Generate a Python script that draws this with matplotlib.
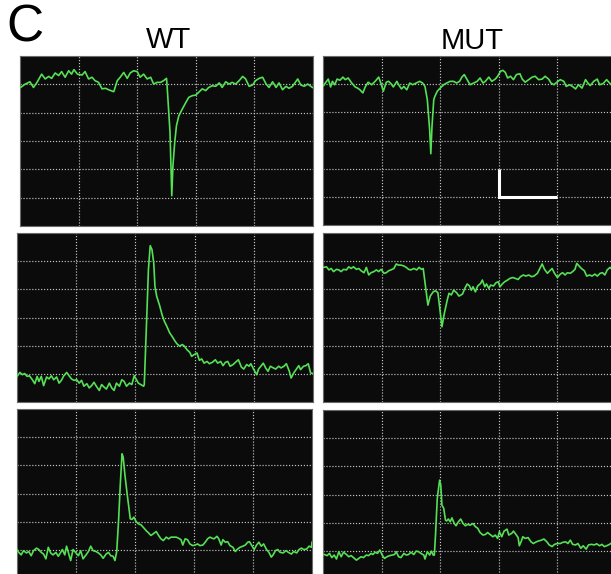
import matplotlib
matplotlib.use("Agg")
import matplotlib.pyplot as plt

wt1_x = [0.01, 0.09, 0.17, 0.23, 0.29, 0.37, 0.43, 0.49, 0.54, 0.60, 0.66, 0.71, 0.77, 0.83, 0.88,
         0.92, 0.98, 1.06, 1.11, 1.17, 1.23, 1.28, 1.34, 1.40, 1.46, 1.51, 1.60, 1.66, 1.71, 1.77,
         1.83, 1.88, 1.94, 2.00, 2.05, 2.11, 2.17, 2.23, 2.28, 2.34, 2.40, 2.45, 2.50, 2.51, 2.56,
         2.59, 2.61, 2.64, 2.67, 2.71, 2.77, 2.83, 2.88, 2.94, 3.00, 3.05, 3.11, 3.17, 3.22, 3.28,
         3.34, 3.40, 3.45, 3.51, 3.57, 3.62, 3.68, 3.74, 3.80, 3.85, 3.91, 3.97, 4.02, 4.08, 4.14,
         4.20, 4.25, 4.31, 4.37, 4.42, 4.48, 4.54, 4.59, 4.65, 4.74, 4.79, 4.85, 4.91, 4.99]
wt1_y = [4.89, 5.01, 5.09, 4.89, 5.07, 5.36, 5.19, 5.28, 5.21, 5.40, 5.31, 5.45, 5.25, 5.48, 5.36,
         5.52, 5.36, 5.33, 5.45, 5.19, 5.25, 5.13, 5.07, 4.84, 4.86, 4.81, 4.74, 5.13, 5.25, 5.42,
         5.21, 5.40, 5.48, 5.45, 5.25, 5.36, 5.19, 5.25, 5.01, 5.07, 5.07, 5.13, 5.21, 4.95, 3.31,
         1.07, 2.13, 2.95, 3.54, 3.89, 4.13, 4.36, 4.54, 4.60, 4.62, 4.72, 4.84, 4.78, 4.89, 4.95,
         4.93, 5.05, 4.89, 5.09, 5.01, 5.07, 5.01, 5.13, 5.28, 5.19, 4.93, 4.98, 5.13, 5.21, 5.25,
         5.01, 4.89, 5.09, 4.89, 5.05, 4.81, 4.93, 4.86, 4.93, 5.19, 4.98, 4.93, 5.01, 4.89]

mut1_x = [0.01, 0.05, 0.09, 0.13, 0.16, 0.20, 0.24, 0.29, 0.34, 0.38, 0.43, 0.49, 0.55, 0.59, 0.63,
          0.68, 0.72, 0.77, 0.83, 0.89, 0.95, 0.99, 1.03, 1.08, 1.12, 1.16, 1.20, 1.26, 1.30, 1.34,
          1.38, 1.43, 1.48, 1.53, 1.59, 1.65, 1.70, 1.74, 1.78, 1.82, 1.84, 1.86, 1.89, 1.91, 1.95,
          2.00, 2.06, 2.11, 2.17, 2.23, 2.28, 2.33, 2.37, 2.41, 2.46, 2.51, 2.57, 2.63, 2.68, 2.73,
          2.77, 2.83, 2.88, 2.94, 2.98, 3.03, 3.07, 3.11, 3.15, 3.20, 3.25, 3.30, 3.36, 3.40, 3.45,
          3.51, 3.57, 3.62, 3.68, 3.74, 3.79, 3.85, 3.89, 3.94, 3.99, 4.05, 4.11, 4.15, 4.21, 4.27,
          4.31, 4.36, 4.42, 4.48, 4.52, 4.56, 4.62, 4.68, 4.72, 4.78, 4.84, 4.89, 4.92]
mut1_y = [4.95, 5.07, 5.18, 4.90, 5.10, 4.98, 5.18, 5.14, 5.25, 5.16, 5.22, 5.04, 4.90, 4.86, 4.80,
          4.69, 4.90, 5.07, 4.98, 5.10, 5.25, 5.02, 4.75, 5.07, 5.10, 5.02, 4.90, 5.10, 4.95, 4.83,
          4.92, 4.80, 5.04, 4.98, 5.04, 5.10, 5.04, 4.92, 4.45, 3.38, 2.53, 3.50, 4.45, 4.57, 4.75,
          4.86, 4.98, 5.04, 5.10, 5.10, 5.04, 5.10, 5.25, 5.34, 5.16, 4.98, 5.04, 5.10, 5.22, 5.04,
          5.10, 5.25, 5.10, 5.18, 5.28, 5.46, 5.49, 5.42, 5.22, 5.28, 5.16, 5.34, 5.37, 5.18, 5.07,
          5.16, 5.25, 5.28, 5.16, 5.18, 5.28, 5.18, 5.04, 4.98, 5.07, 5.16, 5.10, 4.92, 4.98, 4.90,
          4.83, 4.98, 4.86, 5.16, 5.04, 4.95, 5.10, 5.18, 4.98, 5.02, 5.16, 5.04, 4.98]

wt2_x = [0.00, 0.05, 0.09, 0.13, 0.17, 0.21, 0.26, 0.30, 0.34, 0.37, 0.41, 0.45, 0.50, 0.54, 0.58,
         0.62, 0.67, 0.71, 0.75, 0.79, 0.84, 0.88, 0.92, 0.96, 1.01, 1.05, 1.09, 1.13, 1.18, 1.22,
         1.26, 1.30, 1.34, 1.39, 1.43, 1.47, 1.51, 1.56, 1.60, 1.64, 1.68, 1.73, 1.77, 1.81, 1.85,
         1.90, 1.94, 1.98, 2.01, 2.05, 2.09, 2.14, 2.15, 2.19, 2.22, 2.25, 2.28, 2.31, 2.33, 2.36,
         2.41, 2.45, 2.49, 2.53, 2.58, 2.62, 2.66, 2.70, 2.75, 2.79, 2.82, 2.87, 2.92, 2.95, 2.99,
         3.04, 3.08, 3.12, 3.16, 3.21, 3.25, 3.30, 3.35, 3.39, 3.44, 3.48, 3.52, 3.56, 3.60, 3.65,
         3.69, 3.74, 3.79, 3.83, 3.88, 3.92, 3.95, 4.00, 4.05, 4.08, 4.12, 4.16, 4.20, 4.24, 4.28,
         4.33, 4.37, 4.42, 4.46, 4.51, 4.55, 4.60, 4.63, 4.68, 4.72, 4.76, 4.79, 4.84, 4.88, 4.92,
         4.96, 5.00]
wt2_y = [0.91, 1.05, 0.97, 1.01, 0.91, 0.93, 0.79, 0.65, 0.91, 0.73, 0.91, 0.58, 0.89, 0.82, 0.93,
         0.79, 0.89, 0.67, 0.77, 0.93, 1.05, 0.93, 0.82, 0.77, 0.79, 0.67, 0.77, 0.56, 0.65, 0.50,
         0.58, 0.70, 0.56, 0.41, 0.62, 0.53, 0.46, 0.67, 0.50, 0.41, 0.67, 0.56, 0.79, 0.73, 0.56,
         0.67, 0.62, 0.93, 0.82, 0.67, 0.62, 0.56, 0.62, 2.92, 4.70, 5.55, 5.41, 4.93, 4.11, 3.75,
         3.42, 3.10, 2.86, 2.69, 2.45, 2.33, 2.19, 2.07, 1.98, 2.04, 2.00, 1.86, 1.76, 1.62, 1.68,
         1.74, 1.48, 1.53, 1.38, 1.44, 1.36, 1.41, 1.50, 1.38, 1.44, 1.29, 1.41, 1.44, 1.27, 1.33,
         1.41, 1.50, 1.24, 1.17, 1.33, 1.27, 1.36, 1.15, 0.97, 1.17, 1.27, 1.38, 1.21, 1.09, 1.27,
         1.21, 1.17, 1.27, 1.21, 1.27, 1.36, 1.09, 0.85, 1.05, 1.17, 1.29, 1.15, 1.27, 1.29, 1.36,
         1.03, 1.01]

mut2_x = [0.01, 0.06, 0.10, 0.14, 0.18, 0.23, 0.27, 0.31, 0.35, 0.40, 0.44, 0.48, 0.52, 0.57, 0.61,
          0.65, 0.70, 0.74, 0.78, 0.82, 0.87, 0.91, 0.95, 0.99, 1.04, 1.08, 1.12, 1.16, 1.21, 1.25,
          1.29, 1.33, 1.38, 1.42, 1.46, 1.50, 1.55, 1.60, 1.64, 1.68, 1.71, 1.75, 1.79, 1.83, 1.88,
          1.92, 1.96, 1.99, 2.03, 2.07, 2.12, 2.15, 2.19, 2.23, 2.28, 2.32, 2.38, 2.42, 2.46, 2.50,
          2.53, 2.56, 2.60, 2.64, 2.69, 2.72, 2.76, 2.79, 2.83, 2.86, 2.91, 2.95, 2.99, 3.02, 3.06,
          3.10, 3.15, 3.19, 3.24, 3.28, 3.33, 3.37, 3.42, 3.46, 3.51, 3.56, 3.60, 3.66, 3.70, 3.74,
          3.78, 3.83, 3.87, 3.91, 3.95, 4.00, 4.05, 4.09, 4.13, 4.17, 4.22, 4.26, 4.30, 4.33, 4.37,
          4.41, 4.46, 4.50, 4.55, 4.59, 4.64, 4.68, 4.73, 4.77, 4.81, 4.85, 4.90, 4.93]
mut2_y = [4.78, 4.80, 4.69, 4.74, 4.63, 4.71, 4.69, 4.63, 4.71, 4.69, 4.80, 4.74, 4.80, 4.71, 4.74,
          4.66, 4.59, 4.78, 4.51, 4.59, 4.63, 4.69, 4.63, 4.71, 4.57, 4.59, 4.66, 4.69, 4.74, 4.90,
          4.86, 4.86, 4.83, 4.78, 4.71, 4.69, 4.74, 4.69, 4.78, 4.71, 4.74, 4.09, 3.44, 3.76, 3.91,
          3.95, 3.88, 3.38, 2.67, 3.14, 3.62, 3.86, 3.80, 3.97, 3.88, 3.76, 3.83, 4.03, 4.19, 4.12,
          3.97, 4.09, 3.91, 4.12, 4.21, 4.33, 4.09, 4.19, 4.03, 4.15, 4.12, 4.23, 4.27, 4.09, 4.19,
          4.27, 4.33, 4.39, 4.42, 4.39, 4.35, 4.45, 4.51, 4.47, 4.51, 4.45, 4.47, 4.57, 4.74, 4.90,
          4.71, 4.57, 4.66, 4.74, 4.57, 4.42, 4.54, 4.59, 4.51, 4.59, 4.57, 4.63, 4.71, 4.92, 4.83,
          4.74, 4.66, 4.47, 4.51, 4.47, 4.54, 4.47, 4.57, 4.59, 4.51, 4.69, 4.78, 4.71]

wt3_x = [0.00, 0.03, 0.07, 0.11, 0.16, 0.20, 0.24, 0.28, 0.33, 0.37, 0.41, 0.45, 0.49, 0.53, 0.57,
         0.61, 0.66, 0.70, 0.74, 0.77, 0.81, 0.84, 0.87, 0.91, 0.95, 1.00, 1.04, 1.08, 1.12, 1.17,
         1.21, 1.25, 1.29, 1.34, 1.38, 1.42, 1.46, 1.51, 1.55, 1.59, 1.63, 1.66, 1.69, 1.72, 1.75,
         1.78, 1.80, 1.83, 1.87, 1.92, 1.95, 1.98, 2.02, 2.06, 2.10, 2.14, 2.19, 2.23, 2.27, 2.31,
         2.36, 2.40, 2.44, 2.48, 2.53, 2.57, 2.61, 2.65, 2.70, 2.74, 2.78, 2.81, 2.85, 2.89, 2.93,
         2.98, 3.02, 3.06, 3.10, 3.15, 3.19, 3.23, 3.27, 3.31, 3.34, 3.39, 3.42, 3.46, 3.49, 3.53,
         3.57, 3.61, 3.66, 3.70, 3.74, 3.78, 3.83, 3.87, 3.91, 3.94, 3.98, 4.02, 4.06, 4.10, 4.14,
         4.18, 4.23, 4.27, 4.31, 4.34, 4.38, 4.42, 4.46, 4.51, 4.56, 4.60, 4.65, 4.69, 4.74, 4.78,
         4.82, 4.86, 4.91, 4.95, 4.99, 5.00]
wt3_y = [1.01, 0.91, 0.82, 0.97, 0.89, 0.94, 0.79, 0.97, 1.06, 1.01, 0.91, 0.85, 0.68, 1.09, 0.89,
         0.82, 0.91, 0.77, 0.91, 1.01, 0.82, 1.13, 0.91, 0.62, 1.01, 0.89, 0.79, 0.97, 0.68, 0.82,
         0.94, 1.13, 0.97, 0.94, 0.89, 0.82, 0.70, 0.85, 0.91, 0.79, 0.77, 0.62, 0.94, 1.98, 3.29,
         4.41, 4.29, 3.64, 2.93, 2.10, 2.08, 2.16, 2.00, 1.92, 1.89, 1.80, 1.68, 1.60, 1.51, 1.57,
         1.65, 1.51, 1.39, 1.33, 1.45, 1.39, 1.45, 1.45, 1.45, 1.41, 1.36, 1.17, 1.39, 1.36, 1.21,
         1.15, 1.17, 1.21, 1.15, 1.17, 1.27, 1.39, 1.45, 1.41, 1.39, 1.48, 1.39, 1.17, 1.36, 1.27,
         1.29, 1.15, 1.09, 0.94, 1.03, 1.09, 1.13, 1.17, 1.27, 1.29, 1.15, 1.01, 1.17, 1.27, 1.13,
         1.21, 1.01, 0.91, 0.74, 0.82, 0.97, 1.01, 0.91, 0.89, 0.97, 0.91, 0.85, 0.94, 0.89, 1.01,
         1.06, 1.01, 1.03, 1.13, 1.09, 1.27]

mut3_x = [0.02, 0.07, 0.11, 0.15, 0.19, 0.23, 0.27, 0.31, 0.35, 0.40, 0.44, 0.48, 0.52, 0.57, 0.61,
          0.65, 0.69, 0.74, 0.78, 0.82, 0.85, 0.89, 0.93, 0.97, 1.01, 1.05, 1.09, 1.14, 1.18, 1.22,
          1.25, 1.29, 1.33, 1.38, 1.42, 1.46, 1.50, 1.55, 1.59, 1.63, 1.67, 1.72, 1.74, 1.78, 1.82,
          1.85, 1.88, 1.90, 1.92, 1.95, 1.99, 2.01, 2.03, 2.06, 2.09, 2.11, 2.14, 2.17, 2.20, 2.24,
          2.27, 2.31, 2.35, 2.39, 2.43, 2.47, 2.51, 2.56, 2.60, 2.64, 2.68, 2.73, 2.77, 2.81, 2.85,
          2.90, 2.94, 2.98, 3.01, 3.05, 3.09, 3.14, 3.17, 3.22, 3.25, 3.30, 3.33, 3.35, 3.38, 3.41,
          3.45, 3.50, 3.55, 3.59, 3.64, 3.68, 3.73, 3.77, 3.82, 3.86, 3.91, 3.95, 4.00, 4.05, 4.09,
          4.14, 4.18, 4.22, 4.26, 4.31, 4.35, 4.40, 4.44, 4.49, 4.53, 4.58, 4.63, 4.67, 4.72, 4.76,
          4.80, 4.84, 4.89, 4.91]
mut3_y = [0.87, 0.83, 0.91, 0.76, 0.85, 0.71, 0.97, 0.79, 0.95, 0.87, 0.79, 0.83, 0.76, 0.67, 0.73,
          0.79, 0.76, 0.85, 0.83, 0.91, 0.87, 0.95, 0.91, 1.03, 0.85, 0.73, 0.79, 0.83, 0.85, 0.87,
          0.97, 0.79, 0.76, 0.91, 0.85, 0.87, 0.95, 0.87, 0.99, 0.97, 0.91, 0.85, 0.71, 0.97, 0.85,
          0.99, 0.85, 0.85, 1.56, 2.86, 3.51, 3.33, 2.62, 2.51, 2.09, 2.06, 2.13, 2.03, 2.17, 1.97,
          1.89, 2.03, 2.13, 1.97, 1.89, 1.94, 1.91, 1.97, 1.86, 1.80, 1.65, 1.56, 1.58, 1.65, 1.58,
          1.50, 1.56, 1.44, 1.68, 1.50, 1.70, 1.77, 1.56, 1.62, 1.70, 1.56, 1.47, 1.18, 1.32, 1.50,
          1.44, 1.47, 1.32, 1.26, 1.32, 1.35, 1.38, 1.42, 1.32, 1.21, 1.15, 1.23, 1.26, 1.26, 1.30,
          1.32, 1.26, 1.38, 1.23, 1.21, 1.26, 1.09, 1.18, 1.06, 1.21, 1.23, 1.21, 1.25, 1.18, 1.23,
          1.15, 1.18, 1.23, 1.26]

traces = [
    [(wt1_x, wt1_y), (mut1_x, mut1_y)],
    [(wt2_x, wt2_y), (mut2_x, mut2_y)],
    [(wt3_x, wt3_y), (mut3_x, mut3_y)],
]
columns = ["WT", "MUT"]

# panel boxes in pixels: left, top, width, height
boxes = [
    [(20, 56, 293, 170), (323, 56, 293, 169)],
    [(17, 233, 296, 169), (323, 233, 293, 169)],
    [(17, 409, 295, 169), (323, 410, 293, 169)],
]

W, H = 611, 574
fig = plt.figure(figsize=(W / 100, H / 100), dpi=100)
fig.patch.set_facecolor("white")

for r in range(3):
    for c in range(2):
        left, top, w, h = boxes[r][c]
        ax = fig.add_axes([left / W, 1 - (top + h) / H, w / W, h / H])
        ax.set_facecolor("#0b0b0b")
        ax.set_xlim(0, 5)
        ax.set_ylim(0, 6)
        ax.set_xticks([1, 2, 3, 4])
        ax.set_yticks([1, 2, 3, 4, 5])
        ax.tick_params(length=0, labelbottom=False, labelleft=False)
        ax.grid(True, color="#c4c4c4", linestyle=(0, (1, 1.5)), linewidth=0.85)
        for s in ax.spines.values():
            s.set_color("#6a6a6a")
            s.set_linewidth(0.8)
        x, y = traces[r][c]
        ax.plot(x, y, color="#55e055", linewidth=1.2, zorder=3)
        if r == 0 and c == 1:
            # scale bar
            ax.plot([3, 3, 4], [2, 1, 1], color="white", linewidth=2.2,
                    solid_capstyle="butt", solid_joinstyle="miter", zorder=4)

fig.text(25 / W, 1 - 28 / H, "C", fontsize=37, family="Liberation Sans",
         ha="center", va="center")
fig.text(169 / W, 1 - 40 / H, columns[0], fontsize=21, family="Liberation Sans",
         ha="center", va="center")
fig.text(472 / W, 1 - 41 / H, columns[1], fontsize=21, family="Liberation Sans",
         ha="center", va="center")

fig.savefig("out.png", dpi=100)
